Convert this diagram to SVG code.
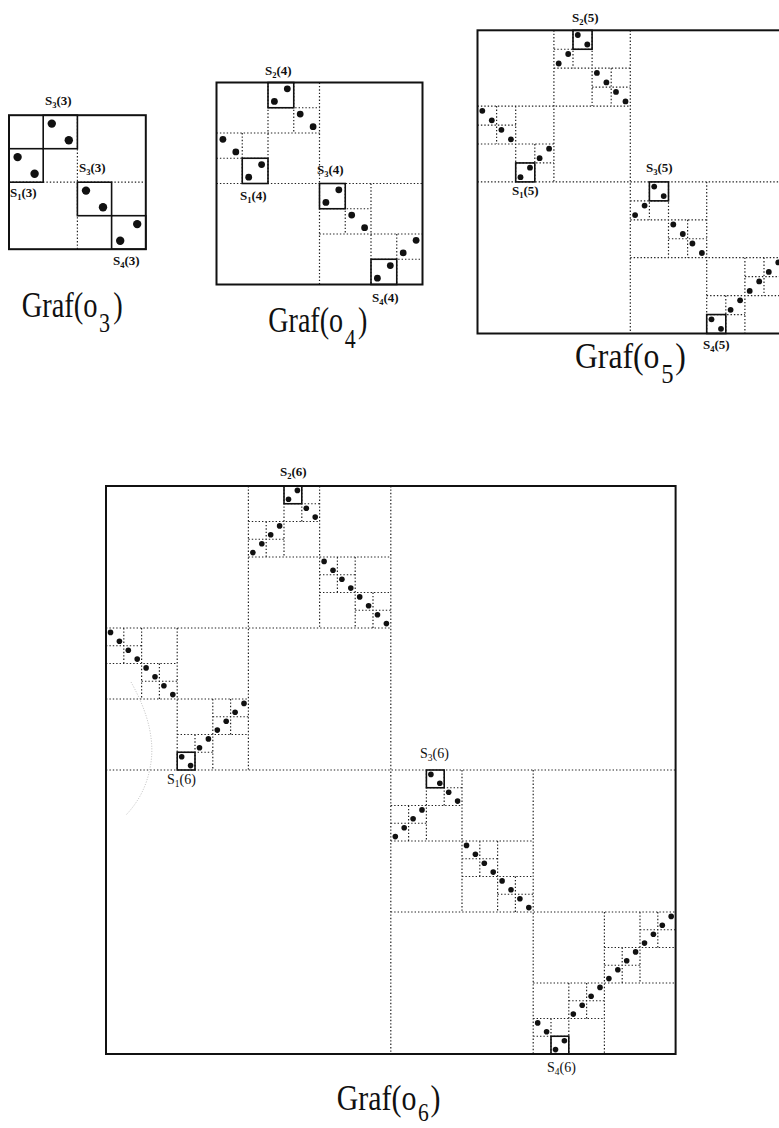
<svg xmlns="http://www.w3.org/2000/svg" width="779" height="1128" viewBox="0 0 779 1128">
<style>
.bg{fill:#fff}
.b{fill:none;stroke:#111;stroke-width:2}
.sb{fill:none;stroke:#111;stroke-width:1.6}
.dl{fill:none;stroke:#222;stroke-width:1.2;stroke-dasharray:1.4 2}
.arc{fill:none;stroke:#aaa;stroke-width:0.8;stroke-dasharray:1 1.6}
.dt{fill:#111}
.s{font-family:"Liberation Serif",serif;font-size:13px;font-weight:bold;fill:#111}
.s6{font-family:"Liberation Serif",serif;font-size:14px;fill:#111}
.g{font-family:"Liberation Serif",serif;font-size:36px;fill:#111}
</style>
<rect class="bg" x="0" y="0" width="779" height="1128"/>

<g id="graf-o3">
<path class="dl" d="M77.4,115.2V249.2M9,182.2H145.8"/>
<g class="sb"><rect x="9" y="148.7" width="34.2" height="33.5"/><rect x="43.2" y="115.2" width="34.2" height="33.5"/><rect x="77.4" y="182.2" width="34.2" height="33.5"/><rect x="111.6" y="215.7" width="34.2" height="33.5"/></g>
<rect class="b" x="9" y="115.2" width="136.8" height="134"/>
<g class="dt">
<circle cx="17.6" cy="157.1" r="4.2"/><circle cx="34.6" cy="173.8" r="4.2"/>
<circle cx="51.8" cy="123.6" r="4.2"/><circle cx="68.8" cy="140.3" r="4.2"/>
<circle cx="86" cy="190.6" r="4.2"/><circle cx="103" cy="207.3" r="4.2"/>
<circle cx="120.2" cy="240.8" r="4.2"/><circle cx="137.2" cy="224.1" r="4.2"/>
</g>
<text class="s" x="45" y="105">S<tspan font-size="8.5" dy="3">3</tspan><tspan dy="-3">(3)</tspan></text>
<text class="s" x="79" y="172">S<tspan font-size="8.5" dy="3">3</tspan><tspan dy="-3">(3)</tspan></text>
<text class="s" x="10" y="197">S<tspan font-size="8.5" dy="3">1</tspan><tspan dy="-3">(3)</tspan></text>
<text class="s" x="113" y="265">S<tspan font-size="8.5" dy="3">4</tspan><tspan dy="-3">(3)</tspan></text>
<text class="g" transform="translate(21.7,316.7) scale(0.79,1)">Graf(o<tspan font-size="28" dy="15" dx="2">3</tspan><tspan dy="-15" dx="4">)</tspan></text>
</g>

<g id="graf-o4">
<path class="dl" d="M319.5,82.5V284.5M216.5,183.5H422.5M268,82.5V183.5M216.5,133H319.5M371,183.5V284.5M319.5,234H422.5M242.25,133V183.5M216.5,158.25H268M293.75,82.5V133M268,107.75H319.5M345.25,183.5V234M319.5,208.75H371M396.75,234V284.5M371,259.25H422.5"/>
<g class="sb"><rect x="242.25" y="158.25" width="25.75" height="25.25"/><rect x="268" y="82.5" width="25.75" height="25.25"/><rect x="319.5" y="183.5" width="25.75" height="25.25"/><rect x="371" y="259.25" width="25.75" height="25.25"/></g>
<rect class="b" x="216.5" y="82.5" width="206" height="202"/>
<g class="dt">
<circle cx="222.9" cy="139.3" r="3.4"/><circle cx="235.8" cy="151.9" r="3.4"/>
<circle cx="248.7" cy="177.2" r="3.4"/><circle cx="261.6" cy="164.6" r="3.4"/>
<circle cx="274.4" cy="101.4" r="3.4"/><circle cx="287.3" cy="88.8" r="3.4"/>
<circle cx="300.2" cy="114.1" r="3.4"/><circle cx="313.1" cy="126.7" r="3.4"/>
<circle cx="325.9" cy="202.4" r="3.4"/><circle cx="338.8" cy="189.8" r="3.4"/>
<circle cx="351.7" cy="215.1" r="3.4"/><circle cx="364.6" cy="227.7" r="3.4"/>
<circle cx="377.4" cy="278.2" r="3.4"/><circle cx="390.3" cy="265.6" r="3.4"/>
<circle cx="403.2" cy="252.9" r="3.4"/><circle cx="416.1" cy="240.3" r="3.4"/>
</g>
<text class="s" x="265" y="75">S<tspan font-size="8.5" dy="3">2</tspan><tspan dy="-3">(4)</tspan></text>
<text class="s" x="317" y="174">S<tspan font-size="8.5" dy="3">3</tspan><tspan dy="-3">(4)</tspan></text>
<text class="s" x="240" y="200">S<tspan font-size="8.5" dy="3">1</tspan><tspan dy="-3">(4)</tspan></text>
<text class="s" x="372" y="302">S<tspan font-size="8.5" dy="3">4</tspan><tspan dy="-3">(4)</tspan></text>
<text class="g" transform="translate(268.3,331.7) scale(0.78,1)">Graf(o<tspan font-size="28" dy="16" dx="2">4</tspan><tspan dy="-16" dx="3">)</tspan></text>
</g>

<g id="graf-o5">
<path class="dl" d="M630.3,30.3V333.5M477.5,181.9H783.1M553.9,30.3V181.9M477.5,106.1H630.3M706.7,181.9V333.5M630.3,257.7H783.1M515.7,106.1V181.9M477.5,144H553.9M592.1,30.3V106.1M553.9,68.2H630.3M668.5,181.9V257.7M630.3,219.8H706.7M744.9,257.7V333.5M706.7,295.6H783.1M496.6,106.1V144M477.5,125.05H515.7M534.8,144V181.9M515.7,162.95H553.9M573,30.3V68.2M553.9,49.25H592.1M611.2,68.2V106.1M592.1,87.15H630.3M649.4,181.9V219.8M630.3,200.85H668.5M687.6,219.8V257.7M668.5,238.75H706.7M725.8,295.6V333.5M706.7,314.55H744.9M764,257.7V295.6M744.9,276.65H783.1"/>
<g class="sb"><rect x="515.7" y="162.95" width="19.1" height="18.95"/><rect x="573" y="30.3" width="19.1" height="18.95"/><rect x="649.4" y="181.9" width="19.1" height="18.95"/><rect x="706.7" y="314.55" width="19.1" height="18.95"/></g>
<rect class="b" x="477.5" y="30.3" width="305.6" height="303.2"/>
<g class="dt">
<circle cx="482.3" cy="110.8" r="2.9"/><circle cx="491.8" cy="120.3" r="2.9"/>
<circle cx="501.4" cy="129.8" r="2.9"/><circle cx="510.9" cy="139.3" r="2.9"/>
<circle cx="520.5" cy="177.2" r="2.9"/><circle cx="530" cy="167.7" r="2.9"/>
<circle cx="539.6" cy="158.2" r="2.9"/><circle cx="549.1" cy="148.7" r="2.9"/>
<circle cx="558.7" cy="63.5" r="2.9"/><circle cx="568.2" cy="54" r="2.9"/>
<circle cx="577.8" cy="35" r="2.9"/><circle cx="587.3" cy="44.5" r="2.9"/>
<circle cx="596.9" cy="72.9" r="2.9"/><circle cx="606.4" cy="82.4" r="2.9"/>
<circle cx="616" cy="91.9" r="2.9"/><circle cx="625.5" cy="101.4" r="2.9"/>
<circle cx="635.1" cy="215.1" r="2.9"/><circle cx="644.6" cy="205.6" r="2.9"/>
<circle cx="654.2" cy="186.6" r="2.9"/><circle cx="663.7" cy="196.1" r="2.9"/>
<circle cx="673.3" cy="224.5" r="2.9"/><circle cx="682.8" cy="234" r="2.9"/>
<circle cx="692.4" cy="243.5" r="2.9"/><circle cx="701.9" cy="253" r="2.9"/>
<circle cx="711.5" cy="319.3" r="2.9"/><circle cx="721" cy="328.8" r="2.9"/>
<circle cx="730.6" cy="309.8" r="2.9"/><circle cx="740.1" cy="300.3" r="2.9"/>
<circle cx="749.7" cy="290.9" r="2.9"/><circle cx="759.2" cy="281.4" r="2.9"/>
<circle cx="768.8" cy="271.9" r="2.9"/><circle cx="778.3" cy="262.4" r="2.9"/>
</g>
<text class="s" x="572" y="22">S<tspan font-size="8.5" dy="3">2</tspan><tspan dy="-3">(5)</tspan></text>
<text class="s" x="646" y="172">S<tspan font-size="8.5" dy="3">3</tspan><tspan dy="-3">(5)</tspan></text>
<text class="s" x="512" y="195">S<tspan font-size="8.5" dy="3">1</tspan><tspan dy="-3">(5)</tspan></text>
<text class="s" x="703" y="349">S<tspan font-size="8.5" dy="3">4</tspan><tspan dy="-3">(5)</tspan></text>
<text class="g" transform="translate(575,368.3) scale(0.88,1)">Graf(o<tspan font-size="28" dy="15" dx="2">5</tspan><tspan dy="-15" dx="2">)</tspan></text>
</g>

<g id="graf-o6">
<path class="arc" d="M131,682Q158,730 150,768Q145,795 126,815"/>
<path class="dl" d="M390.8,486V1054M106,770H675.6M248.4,486V770M106,628H390.8M533.2,770V1054M390.8,912H675.6M177.2,628V770M106,699H248.4M319.6,486V628M248.4,557H390.8M462,770V912M390.8,841H533.2M604.4,912V1054M533.2,983H675.6M141.6,628V699M106,663.5H177.2M212.8,699V770M177.2,734.5H248.4M284,486V557M248.4,521.5H319.6M355.2,557V628M319.6,592.5H390.8M426.4,770V841M390.8,805.5H462M497.6,841V912M462,876.5H533.2M568.8,983V1054M533.2,1018.5H604.4M640,912V983M604.4,947.5H675.6M123.8,628V663.5M106,645.75H141.6M159.4,663.5V699M141.6,681.25H177.2M195,734.5V770M177.2,752.25H212.8M230.6,699V734.5M212.8,716.75H248.4M266.2,521.5V557M248.4,539.25H284M301.8,486V521.5M284,503.75H319.6M337.4,557V592.5M319.6,574.75H355.2M373,592.5V628M355.2,610.25H390.8M408.6,805.5V841M390.8,823.25H426.4M444.2,770V805.5M426.4,787.75H462M479.8,841V876.5M462,858.75H497.6M515.4,876.5V912M497.6,894.25H533.2M551,1018.5V1054M533.2,1036.25H568.8M586.6,983V1018.5M568.8,1000.75H604.4M622.2,947.5V983M604.4,965.25H640M657.8,912V947.5M640,929.75H675.6"/>
<g class="sb"><rect x="177.2" y="752.25" width="17.8" height="17.75"/><rect x="284" y="486" width="17.8" height="17.75"/><rect x="426.4" y="770" width="17.8" height="17.75"/><rect x="551" y="1036.25" width="17.8" height="17.75"/></g>
<rect class="b" x="106" y="486" width="569.6" height="568"/>
<g class="dt">
<circle cx="110.5" cy="632.4" r="2.8"/><circle cx="119.4" cy="641.3" r="2.8"/>
<circle cx="128.3" cy="650.2" r="2.8"/><circle cx="137.2" cy="659.1" r="2.8"/>
<circle cx="146.1" cy="667.9" r="2.8"/><circle cx="155" cy="676.8" r="2.8"/>
<circle cx="163.9" cy="685.7" r="2.8"/><circle cx="172.8" cy="694.6" r="2.8"/>
<circle cx="181.7" cy="756.7" r="2.8"/><circle cx="190.6" cy="765.6" r="2.8"/>
<circle cx="199.5" cy="747.8" r="2.8"/><circle cx="208.4" cy="738.9" r="2.8"/>
<circle cx="217.3" cy="730.1" r="2.8"/><circle cx="226.2" cy="721.2" r="2.8"/>
<circle cx="235.1" cy="712.3" r="2.8"/><circle cx="244" cy="703.4" r="2.8"/>
<circle cx="252.9" cy="552.6" r="2.8"/><circle cx="261.8" cy="543.7" r="2.8"/>
<circle cx="270.7" cy="534.8" r="2.8"/><circle cx="279.6" cy="525.9" r="2.8"/>
<circle cx="288.5" cy="499.3" r="2.8"/><circle cx="297.4" cy="490.4" r="2.8"/>
<circle cx="306.3" cy="508.2" r="2.8"/><circle cx="315.2" cy="517.1" r="2.8"/>
<circle cx="324.1" cy="561.4" r="2.8"/><circle cx="333" cy="570.3" r="2.8"/>
<circle cx="341.9" cy="579.2" r="2.8"/><circle cx="350.8" cy="588.1" r="2.8"/>
<circle cx="359.7" cy="596.9" r="2.8"/><circle cx="368.6" cy="605.8" r="2.8"/>
<circle cx="377.5" cy="614.7" r="2.8"/><circle cx="386.4" cy="623.6" r="2.8"/>
<circle cx="395.3" cy="836.6" r="2.8"/><circle cx="404.2" cy="827.7" r="2.8"/>
<circle cx="413.1" cy="818.8" r="2.8"/><circle cx="422" cy="809.9" r="2.8"/>
<circle cx="430.9" cy="774.4" r="2.8"/><circle cx="439.8" cy="783.3" r="2.8"/>
<circle cx="448.7" cy="792.2" r="2.8"/><circle cx="457.6" cy="801.1" r="2.8"/>
<circle cx="466.5" cy="845.4" r="2.8"/><circle cx="475.4" cy="854.3" r="2.8"/>
<circle cx="484.3" cy="863.2" r="2.8"/><circle cx="493.2" cy="872.1" r="2.8"/>
<circle cx="502.1" cy="880.9" r="2.8"/><circle cx="511" cy="889.8" r="2.8"/>
<circle cx="519.9" cy="898.7" r="2.8"/><circle cx="528.8" cy="907.6" r="2.8"/>
<circle cx="537.7" cy="1022.9" r="2.8"/><circle cx="546.6" cy="1031.8" r="2.8"/>
<circle cx="555.5" cy="1049.6" r="2.8"/><circle cx="564.4" cy="1040.7" r="2.8"/>
<circle cx="573.3" cy="1014.1" r="2.8"/><circle cx="582.2" cy="1005.2" r="2.8"/>
<circle cx="591.1" cy="996.3" r="2.8"/><circle cx="600" cy="987.4" r="2.8"/>
<circle cx="608.9" cy="978.6" r="2.8"/><circle cx="617.8" cy="969.7" r="2.8"/>
<circle cx="626.7" cy="960.8" r="2.8"/><circle cx="635.6" cy="951.9" r="2.8"/>
<circle cx="644.5" cy="943.1" r="2.8"/><circle cx="653.4" cy="934.2" r="2.8"/>
<circle cx="662.3" cy="925.3" r="2.8"/><circle cx="671.2" cy="916.4" r="2.8"/>
</g>
<text class="s" x="280" y="476">S<tspan font-size="8.5" dy="3">2</tspan><tspan dy="-3">(6)</tspan></text>
<text class="s6" x="167" y="784">S<tspan font-size="9.5" dy="3">1</tspan><tspan dy="-3">(6)</tspan></text>
<text class="s6" x="420" y="758">S<tspan font-size="9.5" dy="3">3</tspan><tspan dy="-3">(6)</tspan></text>
<text class="s6" x="547" y="1072">S<tspan font-size="9.5" dy="3">4</tspan><tspan dy="-3">(6)</tspan></text>
<text class="g" transform="translate(336.7,1110) scale(0.83,1)">Graf(o<tspan font-size="26" dy="11" dx="2">6</tspan><tspan dy="-11" dx="2">)</tspan></text>
</g>
</svg>
